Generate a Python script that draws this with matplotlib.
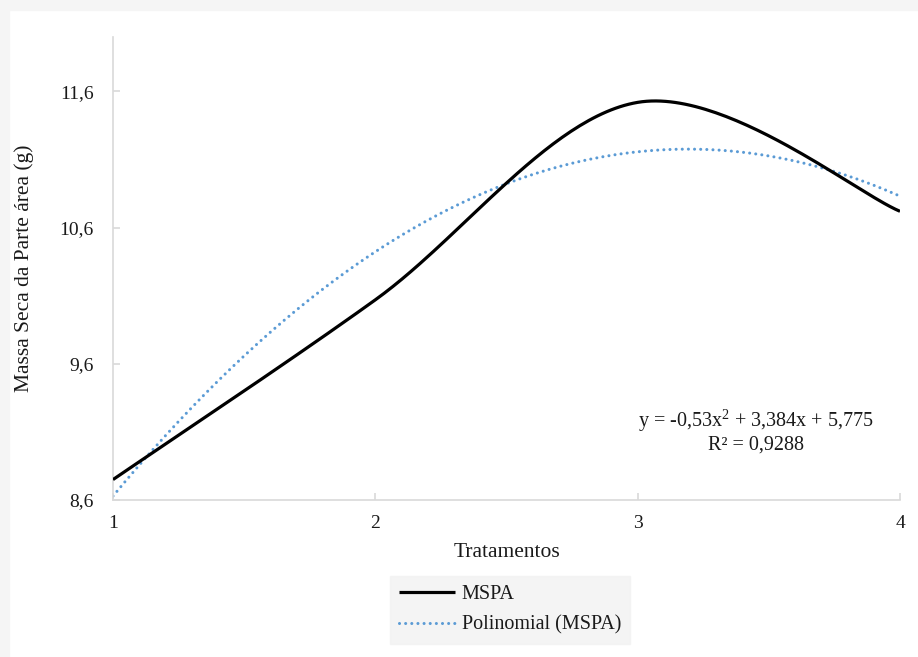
import numpy as np
import matplotlib
matplotlib.use("Agg")
import matplotlib.pyplot as plt
from matplotlib.patches import Rectangle

# Data
x_vals = [1, 2, 3, 4]
mspa = [8.75, 10.07, 11.52, 10.72]
poly_coef = [-0.53, 3.384, 5.775]
y_ticks = [8.6, 9.6, 10.6, 11.6]
y_tick_labels = ["8,6", "9,6", "10,6", "11,6"]
x_ticks = [1, 2, 3, 4]
eq_text = "y = -0,53x$^{2}$ + 3,384x + 5,775"
r2_text = "R² = 0,9288"

plt.rcParams['font.family'] = ['Liberation Serif', 'DejaVu Serif']
plt.rcParams['mathtext.fontset'] = 'custom'
plt.rcParams['mathtext.rm'] = 'Liberation Serif'
plt.rcParams['mathtext.default'] = 'regular'

W, H = 918, 657
fig = plt.figure(figsize=(W/100, H/100), dpi=100)
fig.patch.set_facecolor('white')
# grey outer border
fig.add_artist(Rectangle((0, 0), 9/W, 1, transform=fig.transFigure, color='#f5f5f5', zorder=0))
fig.add_artist(Rectangle((0, 1-10/H), 1, 10/H, transform=fig.transFigure, color='#f5f5f5', zorder=0))

ax = fig.add_axes([113/W, 1-500/H, (900-113)/W, (500-37)/H])
ax.set_xlim(1, 4)
ax.set_ylim(8.6, 12.0)

# Excel-like smoothed line (Catmull-Rom Bezier)
xs = np.array(x_vals, float)
ys = np.array(mspa, float)
P = np.column_stack([xs, ys])
curve = []
n = len(P)
for i in range(n-1):
    p0 = P[max(i-1, 0)]
    p1 = P[i]
    p2 = P[i+1]
    p3 = P[min(i+2, n-1)]
    c1 = p1 + (p2 - p0)/6
    c2 = p2 - (p3 - p1)/6
    t = np.linspace(0, 1, 60)[:, None]
    seg = (1-t)**3*p1 + 3*(1-t)**2*t*c1 + 3*(1-t)*t**2*c2 + t**3*p2
    curve.append(seg)
curve = np.vstack(curve)
ax.plot(curve[:, 0], curve[:, 1], color='black', lw=2.3, solid_capstyle='butt', zorder=3, label='MSPA')

xt = np.linspace(1, 4, 300)
yt = np.polyval(poly_coef, xt)
ax.plot(xt, yt, color='#5b9bd5', lw=2.2, linestyle=(0, (0.01, 2.0)), dash_capstyle='round', zorder=2,
        label='Polinomial (MSPA)')

for s in ['top', 'right']:
    ax.spines[s].set_visible(False)
for s in ['left', 'bottom']:
    ax.spines[s].set_color('#d9d9d9')
    ax.spines[s].set_linewidth(1.2)

ax.set_yticks(y_ticks)
ax.set_yticklabels(y_tick_labels)
ax.set_xticks(x_ticks)
ax.tick_params(axis='both', direction='in', length=5, color='#d9d9d9', width=1.2,
               labelsize=14, labelcolor='#1a1a1a')
ax.tick_params(axis='y', pad=14)
ax.tick_params(axis='x', pad=11)

ax.set_xlabel('Tratamentos', fontsize=15.5, color='#1a1a1a', labelpad=8)
ax.set_ylabel('Massa Seca da Parte área (g)', fontsize=15.5, color='#1a1a1a', labelpad=18)

ax.text(3.45, 9.18, eq_text, ha='center', va='center', fontsize=14.5, color='#1a1a1a')
ax.text(3.45, 9.0, r2_text, ha='center', va='center', fontsize=14.5, color='#1a1a1a')

leg = fig.legend(loc='center', bbox_to_anchor=(510/W, 1-610/H), fontsize=14.5, frameon=True,
                 fancybox=False, handlelength=2.8, handletextpad=0.3, labelspacing=0.55,
                 borderpad=0.45)
leg.get_frame().set_facecolor('#f2f2f2')
leg.get_frame().set_edgecolor('#f2f2f2')
for t in leg.get_texts():
    t.set_color('#1a1a1a')

fig.savefig('out.png', dpi=100)
